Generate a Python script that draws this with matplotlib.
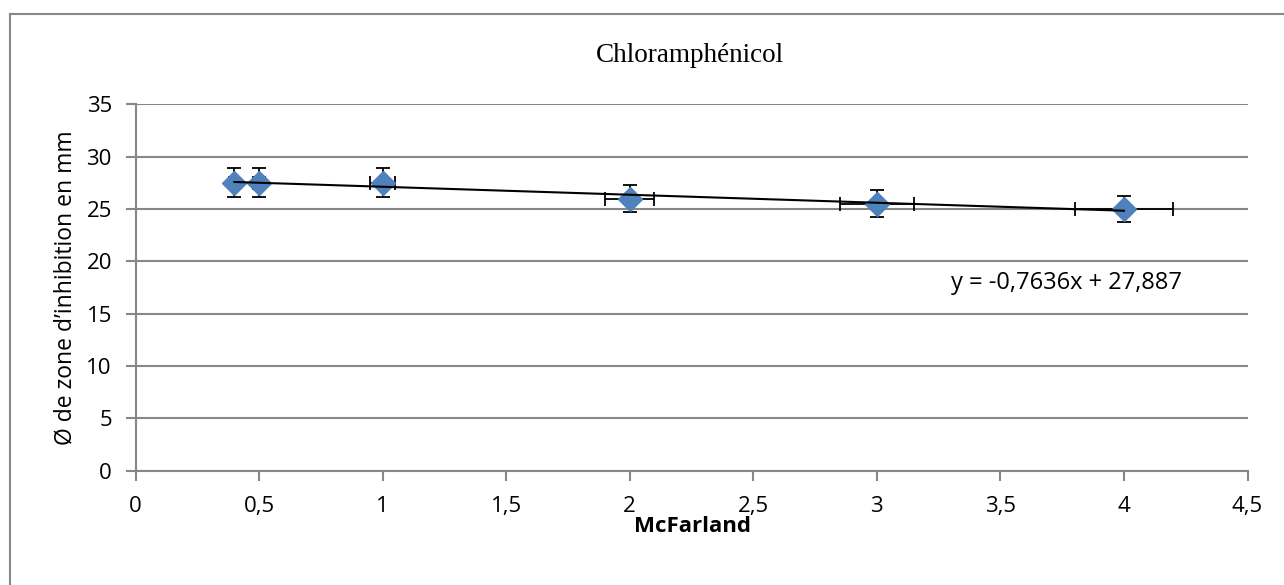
import matplotlib
matplotlib.use("Agg")
import matplotlib.pyplot as plt
import numpy as np
from matplotlib.lines import Line2D

# McFarland standards vs. inhibition zone diameter (chloramphenicol)
mcfarland = [0.4, 0.5, 1, 2, 3, 4]
diametre = [27.5, 27.5, 27.5, 26, 25.5, 25]
err_x = [0.02, 0.025, 0.05, 0.1, 0.15, 0.2]
err_y = [1.375, 1.375, 1.375, 1.3, 1.275, 1.25]

# Linear trendline coefficients
pente = -0.7636
ordonnee = 27.887

x_ticks = [0, 0.5, 1, 1.5, 2, 2.5, 3, 3.5, 4, 4.5]
y_ticks = [0, 5, 10, 15, 20, 25, 30, 35]

def fr(v):
    s = f"{v:g}"
    return s.replace(".", ",")

grey = "#878787"
sans = ["Open Sans", "DejaVu Sans"]

fig = plt.figure(figsize=(12.84, 5.85), dpi=100)
ax = fig.add_axes([135.5 / 1284, 1 - 470.7 / 585, (1247.5 - 135.5) / 1284, (470.7 - 104.3) / 585])

ax.set_xlim(0, 4.5)
ax.set_ylim(0, 35)
ax.set_xticks(x_ticks)
ax.set_yticks(y_ticks)
ax.set_xticklabels([fr(v) for v in x_ticks], fontfamily=sans, fontsize=16)
ax.set_yticklabels([fr(v) for v in y_ticks], fontfamily=sans, fontsize=16)
ax.tick_params(axis="both", colors=grey, labelcolor="black", width=1.5, length=7, direction="out")
ax.tick_params(axis="x", pad=11)
ax.tick_params(axis="y", pad=10)

for side in ("top", "right"):
    ax.spines[side].set_visible(False)
for side in ("left", "bottom"):
    ax.spines[side].set_color(grey)
    ax.spines[side].set_linewidth(1.5)

ax.grid(axis="y", color=grey, linewidth=1.5)
ax.set_axisbelow(True)

ax.errorbar(mcfarland, diametre, xerr=err_x, yerr=err_y, fmt="none",
            ecolor="black", elinewidth=1.3, capsize=5, capthick=1.3, zorder=3)
ax.plot(mcfarland, diametre, linestyle="none", marker="D", markersize=12,
        color="#4F81BD", markeredgecolor="#4F81BD", zorder=4, clip_on=False)

xt = np.array([min(mcfarland), max(mcfarland)])
ax.plot(xt, pente * xt + ordonnee, color="black", linewidth=1.5, zorder=5)

ax.text(3.3, 17.9, "y = -0,7636x + 27,887", fontfamily=sans, fontsize=17,
        ha="left", va="center")

ax.set_xlabel("McFarland", fontfamily=sans, fontsize=16, fontweight="bold")
ax.xaxis.label.set_va("center")
ax.xaxis.set_label_coords((693 - 135.5) / 1112, -(526 - 470.7) / 366.4)
ax.set_ylabel("Ø de zone d’inhibition en mm", fontfamily=sans, fontsize=16.5)
ax.yaxis.label.set_va("center")
ax.yaxis.set_label_coords((66 - 135.5) / 1112, 0.5 + (470.7 - 287.5 - 183.2) / 366.4)

fig.text(690 / 1284, 1 - 55 / 585, "Chloramphénicol", fontfamily=["Liberation Serif", "DejaVu Serif"],
         fontsize=19.5, ha="center", va="center")

# chart frame
fig.add_artist(Line2D([10 / 1284, 10 / 1284], [0, 1 - 14 / 585], transform=fig.transFigure,
                      color=grey, linewidth=1.5))
fig.add_artist(Line2D([10 / 1284, 1], [1 - 14 / 585, 1 - 14 / 585], transform=fig.transFigure,
                      color=grey, linewidth=1.5))

fig.savefig("out.png", dpi=100)
